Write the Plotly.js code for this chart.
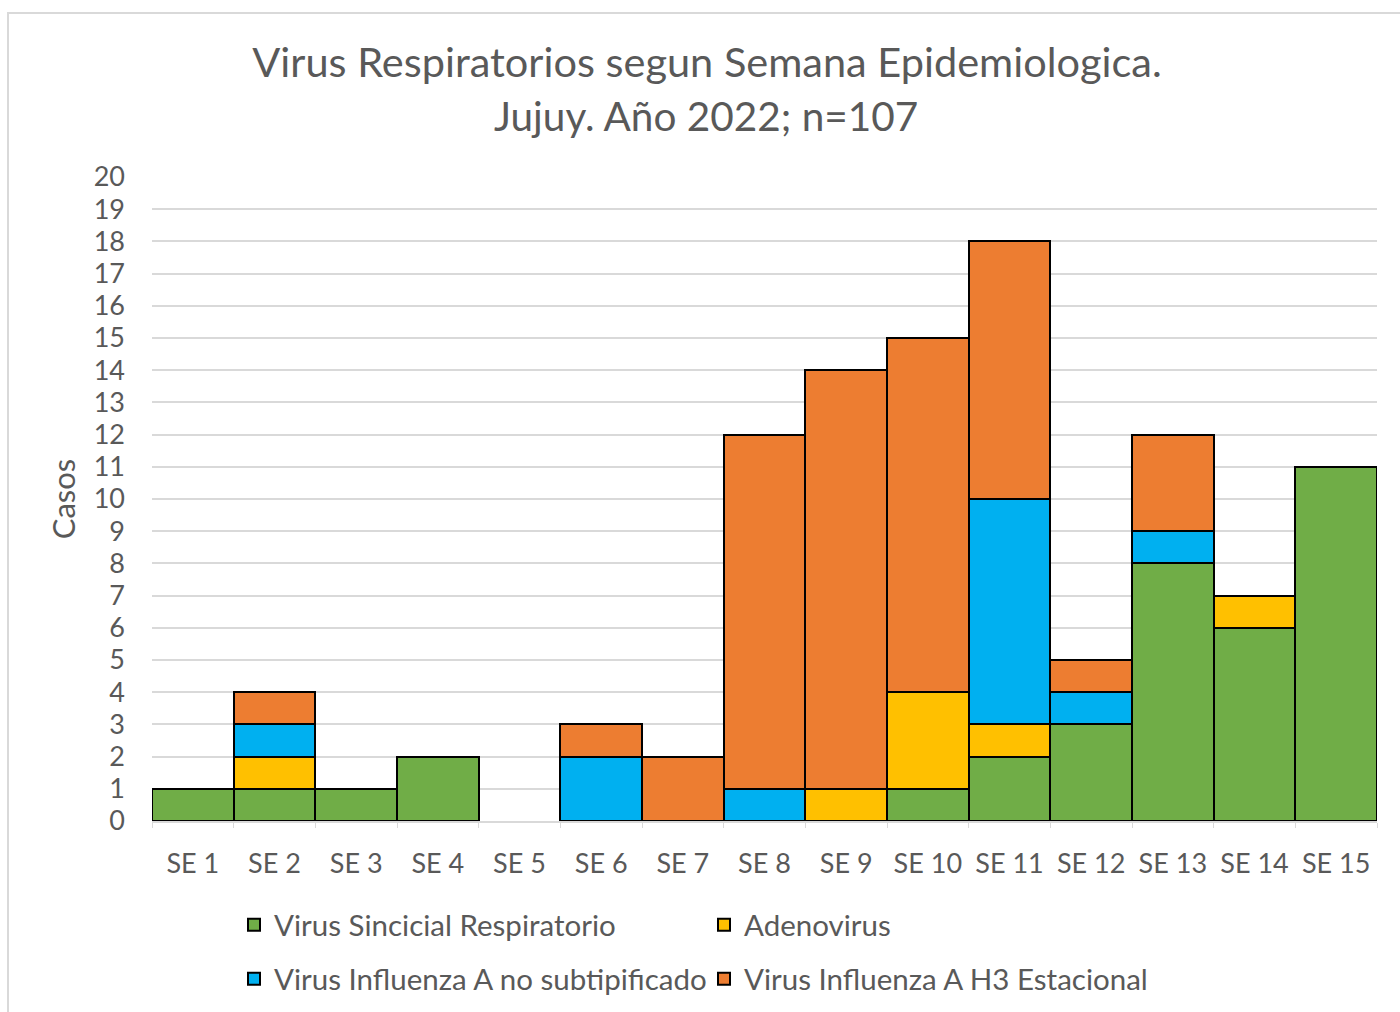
<!DOCTYPE html>
<html>
<head>
<meta charset="utf-8">
<script src="https://cdn.plot.ly/plotly-3.0.1.min.js"></script>
<style>
  html, body { margin: 0; padding: 0; background: #fff; }
  #chart { width: 1400px; height: 1012px; position: absolute; left: 0; top: 0; }
  #frame { position: absolute; left: 7px; top: 12px; width: 1400px; height: 1100px;
           border-left: 2px solid #d9d9d9; border-top: 2px solid #d9d9d9; pointer-events: none; }
</style>
</head>
<body>
<div id="chart"></div>
<div id="frame"></div>
<script>
const semanas = ["SE 1","SE 2","SE 3","SE 4","SE 5","SE 6","SE 7","SE 8","SE 9","SE 10","SE 11","SE 12","SE 13","SE 14","SE 15"];
const vsr      = [1, 1, 1, 2, 0, 0, 0, 0, 0, 1, 2, 3, 8, 6, 11];
const adeno    = [0, 1, 0, 0, 0, 0, 0, 0, 1, 3, 1, 0, 0, 1, 0];
const fluA     = [0, 1, 0, 0, 0, 2, 0, 1, 0, 0, 7, 1, 1, 0, 0];
const fluH3    = [0, 1, 0, 0, 0, 1, 2, 11, 13, 11, 8, 1, 3, 0, 0];
const seriesNames = ["Virus Sincicial Respiratorio", "Adenovirus", "Virus Influenza A no subtipificado", "Virus Influenza A H3 Estacional"];
const yTicks = [0,1,2,3,4,5,6,7,8,9,10,11,12,13,14,15,16,17,18,19,20];

const FONT = "Lato, 'Open Sans', sans-serif";
const TXT = "#595959";
const colors = ["#70AD47", "#FFC000", "#00B0F0", "#ED7D31"];
const values = [vsr, adeno, fluA, fluH3];
const legendIds = ["legend", "legend2", "legend3", "legend4"];

const traces = values.map((v, i) => ({
  type: "bar",
  name: seriesNames[i],
  x: semanas,
  y: v.map(d => d === 0 ? null : d),
  legend: legendIds[i],
  marker: { color: colors[i], line: { color: "#000000", width: 2 } },
  hoverinfo: "x+y+name"
}));

function legendAt(x, y) {
  return {
    xref: "container", yref: "container",
    x: x, y: y, xanchor: "left", yanchor: "middle",
    orientation: "h", bgcolor: "rgba(0,0,0,0)", borderwidth: 0,
    font: { family: FONT, size: 29.5, color: TXT }
  };
}

const layout = {
  width: 1400, height: 1012,
  margin: { l: 152, r: 23, t: 177, b: 191, pad: 0 },
  paper_bgcolor: "#ffffff", plot_bgcolor: "#ffffff",
  font: { family: FONT, color: TXT },
  barmode: "stack", bargap: 0,
  title: {
    text: "Virus Respiratorios segun Semana Epidemiologica.",
    xref: "container", x: 0.505, xanchor: "center",
    yref: "container", y: 1 - 62/1012, yanchor: "middle",
    font: { family: FONT, size: 41.5, color: TXT }
  },
  annotations: [{
    text: "Jujuy. Año 2022; n=107",
    xref: "paper", yref: "paper",
    x: (706 - 152) / 1225, y: 1 + (177 - 116) / 644,
    xanchor: "center", yanchor: "middle", showarrow: false,
    font: { family: FONT, size: 40.5, color: TXT }
  }],
  xaxis: {
    type: "category",
    tickson: "boundaries", ticks: "outside", ticklen: 5, tickwidth: 1, tickcolor: "#d9d9d9",
    showline: true, linecolor: "#d9d9d9", linewidth: 2,
    showgrid: false, zeroline: false,
    tickfont: { family: FONT, size: 27, color: TXT },
    ticklabelstandoff: 18,
    fixedrange: true
  },
  yaxis: {
    range: [0, 20], tickvals: yTicks, ticktext: yTicks.map(String),
    showgrid: true, gridcolor: "#d9d9d9", gridwidth: 2,
    zeroline: false, showline: false, ticks: "",
    tickfont: { family: FONT, size: 27, color: TXT },
    ticklabelstandoff: 26,
    title: { text: "Casos", font: { family: FONT, size: 31, color: TXT }, standoff: 8 },
    fixedrange: true
  },
  legend: legendAt(234/1400, 1 - 925/1012),
  legend2: legendAt(704/1400, 1 - 925/1012),
  legend3: legendAt(234/1400, 1 - 979/1012),
  legend4: legendAt(704/1400, 1 - 979/1012),
  showlegend: true
};

Plotly.newPlot("chart", traces, layout, { displayModeBar: false, staticPlot: false });
</script>
</body>
</html>
